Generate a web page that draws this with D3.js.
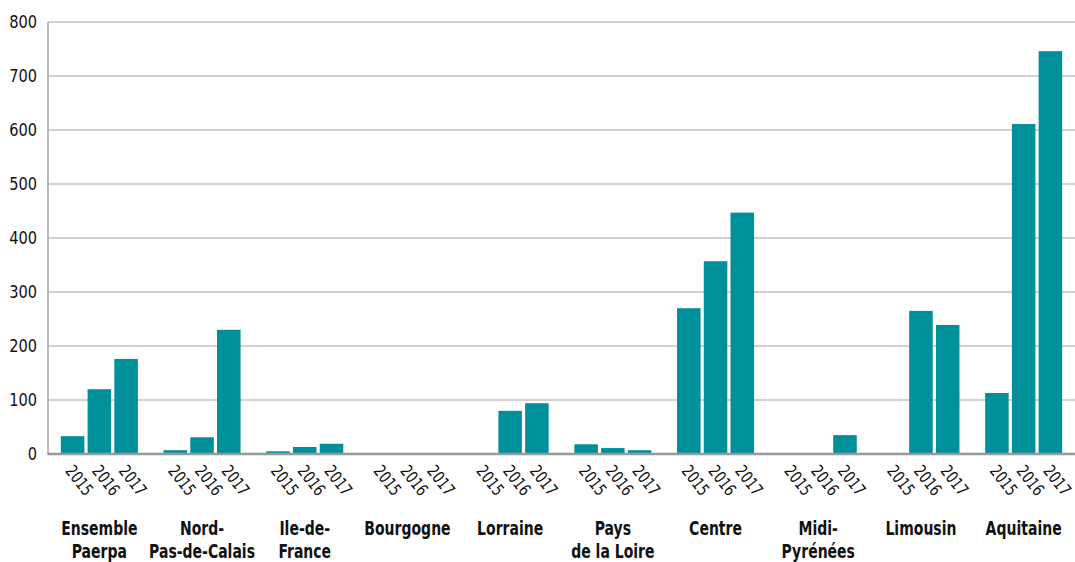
<!DOCTYPE html>
<html><head><meta charset="utf-8">
<script src="https://cdn.jsdelivr.net/npm/d3@7"></script>
<style>
body{margin:0;background:#fff;}
text{font-family:"DejaVu Sans Condensed","DejaVu Sans",sans-serif;fill:#111;}
</style></head><body>
<svg id="c" width="1075" height="562"></svg>
<script>
const categories = [["Ensemble","Paerpa"],["Nord-","Pas-de-Calais"],["Ile-de-","France"],["Bourgogne"],["Lorraine"],["Pays","de la Loire"],["Centre"],["Midi-","Pyrénées"],["Limousin"],["Aquitaine"]];
const years = ["2015","2016","2017"];
const v2015 = [33, 7, 5, 0, 0, 18, 270, 0, 0, 113];
const v2016 = [120, 31, 13, 0, 80, 11, 357, 0, 265, 611];
const v2017 = [176, 230, 19, 0, 94, 7, 447, 35, 239, 746];
const yTicks = [0,100,200,300,400,500,600,700,800];

const series = [v2015, v2016, v2017];
const svg = d3.select("#c");
const m = {l:48, r:1075, t:22, b:454};
const x0 = d3.scaleBand().domain(d3.range(categories.length)).range([m.l, m.r]).paddingInner(0.25).paddingOuter(0.125);
const x1 = d3.scaleBand().domain(years).range([0, x0.bandwidth()]).paddingInner(0.12);
const y = d3.scaleLinear().domain([0,800]).range([m.b, m.t]);

// grid
svg.append("g").selectAll("line").data(yTicks.filter(d=>d>0)).join("line")
  .attr("x1", m.l).attr("x2", m.r).attr("y1", d=>y(d)).attr("y2", d=>y(d))
  .attr("stroke", "#a6a6a6").attr("stroke-width", 1.2);

// y axis labels
const yAxis = d3.axisLeft(y).tickValues(yTicks).tickSize(0).tickPadding(10);
const ya = svg.append("g").attr("transform", `translate(${m.l},0)`).call(yAxis);
ya.select(".domain").remove();
ya.selectAll("text").style("font-size","18px").style("font-family",'"DejaVu Sans Condensed","DejaVu Sans",sans-serif').attr("fill","#111")
  .attr("transform","scale(0.9,1)").attr("x", -11/0.9);

// bars
const g = svg.append("g");
categories.forEach((c,i)=>{
  years.forEach((yr,j)=>{
    const v = series[j][i];
    if (v>0) g.append("rect").attr("x", x0(i)+x1(yr)).attr("width", x1.bandwidth())
      .attr("y", y(v)).attr("height", y(0)-y(v)).attr("fill","#00909a");
  });
});

// axes lines
svg.append("line").attr("x1", m.l).attr("x2", m.l).attr("y1", m.t).attr("y2", m.b+1).attr("stroke","#a6a6a6").attr("stroke-width",1.5);
svg.append("line").attr("x1", m.l).attr("x2", m.r).attr("y1", y(0)).attr("y2", y(0)).attr("stroke","#999").attr("stroke-width",2.5);

// year labels
categories.forEach((c,i)=>{
  years.forEach((yr,j)=>{
    const cx = x0(i)+x1(yr)+x1.bandwidth()/2;
    svg.append("text").attr("transform", `translate(${cx-8},${y(0)+17}) rotate(52) scale(0.85,1)`)
      .style("font-size","17px").attr("text-anchor","start").text(yr);
  });
});

// category labels
categories.forEach((c,i)=>{
  const cx = x0(i)+x0.bandwidth()/2;
  const gg = svg.append("g").attr("transform", `translate(${cx},535) scale(0.82,1)`);
  const t = gg.append("text").attr("x", 0).attr("y", 0).attr("text-anchor","middle")
    .style("font-size","19px").style("font-weight","bold");
  c.forEach((line,k)=>t.append("tspan").attr("x",0).attr("dy", k===0?0:23).text(line));
});
</script></body></html>
